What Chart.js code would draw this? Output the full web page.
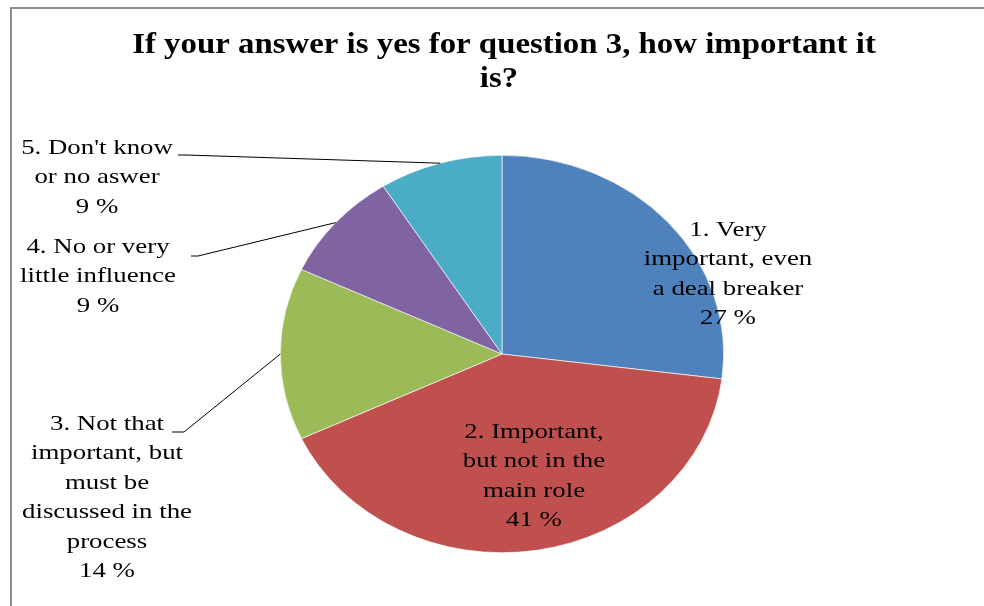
<!DOCTYPE html>
<html lang="en">
<head>
  <meta charset="UTF-8">
  <title>How important it is</title>
  <script src="https://cdn.jsdelivr.net/npm/chart.js"></script>
  <style>
    body { margin: 0; background: #fff; }
    #chartBox { width: 984px; height: 606px; }
  </style>
</head>
<body>
  <div id="chartBox">
    <canvas id="importanceChart" width="984" height="606"></canvas>
  </div>

  <script>
    // answers and their share
    const categories = [
      "1. Very important, even a deal breaker",
      "2. Important, but not in the main role",
      "3. Not that important, but must be discussed in the process",
      "4. No or very little influence",
      "5. Don't know or no aswer"
    ];
    const percentages = [27, 41, 14, 9, 9];
    const labelLines = [
      ["1. Very", "important, even", "a deal breaker"],
      ["2. Important,", "but not in the", "main role"],
      ["3. Not that", "important, but", "must be", "discussed in the", "process"],
      ["4. No or very", "little influence"],
      ["5. Don't know", "or no aswer"]
    ];
    const titleLines = ["If your answer is yes for question 3, how important it", "is?"];

    const sliceColors = ["#4f81bd", "#c0504d", "#9bbb59", "#8064a2", "#4bacc6"];

    // where each label sits (first line centre) and whether it gets a leader line
    const labelLayout = [
      { x: 728, y: 230, leader: null },
      { x: 534, y: 432, leader: null },
      { x: 107, y: 424, leader: { x0: 172, x1: 184, y: 432 } },
      { x: 98, y: 247, leader: { x0: 191, x1: 198, y: 256 } },
      { x: 97, y: 148, leader: { x0: 178, x1: 186, y: 155 } }
    ];

    const stretchX = 222 / 199;   // pie is drawn a bit wider than tall
    const textStretch = 1.22;
    const titleStretch = 1.095;
    const lineGap = 29.5;

    // draws text squeezed/stretched horizontally around its centre
    function wideText(ctx, txt, x, y, sx) {
      ctx.save();
      ctx.translate(x, y);
      ctx.scale(sx, 1);
      ctx.fillText(txt, 0, 0);
      ctx.restore();
    }

    const ovalPie = {
      id: "ovalPie",
      beforeDraw(chart) {
        const ctx = chart.ctx;
        ctx.save();
        ctx.fillStyle = "#fff";
        ctx.fillRect(0, 0, chart.width, chart.height);
        // frame, top and left only
        ctx.strokeStyle = "#8c8c8c";
        ctx.lineWidth = 2;
        ctx.beginPath();
        ctx.moveTo(chart.width, 8);
        ctx.lineTo(11, 8);
        ctx.lineTo(11, chart.height);
        ctx.stroke();

        // title
        ctx.fillStyle = "#000";
        ctx.font = "bold 30px 'Liberation Serif'";
        ctx.textAlign = "center";
        ctx.textBaseline = "alphabetic";
        wideText(ctx, titleLines[0], 504, 53, titleStretch);
        wideText(ctx, titleLines[1], 499, 87, titleStretch);
        ctx.restore();
      },
      beforeDatasetsDraw(chart) {
        const arc = chart.getDatasetMeta(0).data[0];
        const ctx = chart.ctx;
        ctx.save();
        ctx.translate(arc.x, arc.y);
        ctx.scale(stretchX, 1);
        ctx.translate(-arc.x, -arc.y);
      },
      afterDatasetsDraw(chart) {
        const ctx = chart.ctx;
        ctx.restore();

        const arcs = chart.getDatasetMeta(0).data;
        ctx.save();
        ctx.fillStyle = "#000";
        ctx.font = "22px 'Liberation Serif'";
        ctx.textAlign = "center";
        ctx.textBaseline = "middle";

        arcs.forEach((arc, i) => {
          const pos = labelLayout[i];
          const lines = labelLines[i].concat([percentages[i] + " %"]);
          lines.forEach((txt, k) => wideText(ctx, txt, pos.x, pos.y + k * lineGap, textStretch));

          if (pos.leader) {
            const mid = (arc.startAngle + arc.endAngle) / 2;
            const tx = arc.x + Math.cos(mid) * arc.outerRadius * stretchX;
            const ty = arc.y + Math.sin(mid) * arc.outerRadius;
            ctx.strokeStyle = "#000";
            ctx.lineWidth = 1;
            ctx.beginPath();
            ctx.moveTo(pos.leader.x0, pos.leader.y);
            ctx.lineTo(pos.leader.x1, pos.leader.y);
            ctx.lineTo(tx, ty);
            ctx.stroke();
          }
        });
        ctx.restore();
      }
    };

    new Chart(document.getElementById("importanceChart"), {
      type: "pie",
      data: {
        labels: categories,
        datasets: [{
          data: percentages,
          backgroundColor: sliceColors,
          borderColor: "#ffffff",
          borderWidth: 0.6,
          hoverOffset: 0
        }]
      },
      options: {
        responsive: false,
        animation: false,
        events: [],
        layout: { padding: { top: 155, bottom: 53, left: 100, right: 80 } },
        plugins: {
          legend: { display: false },
          tooltip: { enabled: false },
          title: { display: false }
        }
      },
      plugins: [ovalPie]
    });
  </script>
</body>
</html>
